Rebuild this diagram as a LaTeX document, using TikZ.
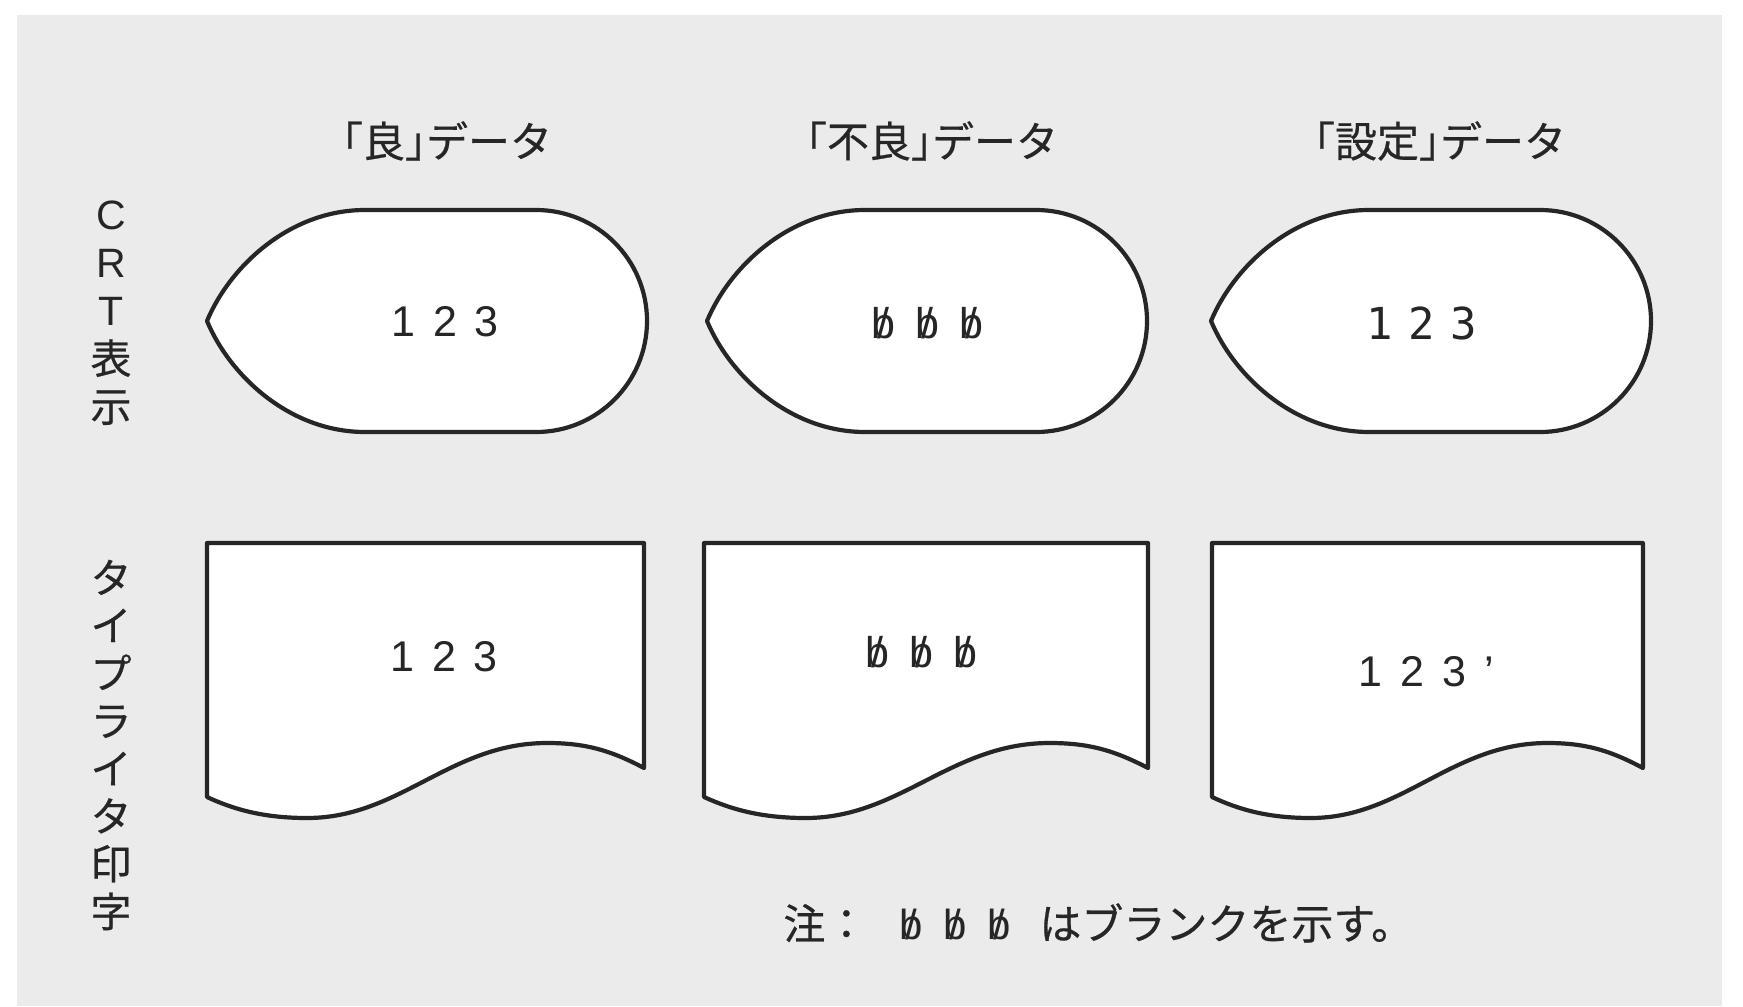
\documentclass[tikz,border=0pt]{standalone}
\usepackage{fontspec}
\setmainfont{Liberation Sans}
\newfontfamily\jp{Noto Sans CJK JP}[FakeBold=0.5]
\newfontfamily\segfont{DejaVu Sans Mono}
\newcommand\lbk{\makebox[0.5em][r]{「}}
\newcommand\rbk{\makebox[0.5em][l]{」}}
\newcommand\blk{\makebox[22pt]{\rmfamily\ooalign{b\cr\hidewidth/\hidewidth\cr}}}
\newcommand\dgap{\hspace{0.42em}}
\begin{document}
\begin{tikzpicture}[x=0.5pt,y=-0.5pt,
  outline/.style={draw=black!85,line width=2.1pt,fill=white,line join=round},
  hdr/.style={inner sep=0pt,text=black!85,font=\jp\fontsize{21}{24}\selectfont},
  vlab/.style={inner sep=0pt,align=center,text=black!85,font=\jp\fontsize{20.5}{24}\selectfont},
  digits/.style={inner sep=0pt,text=black!85,font=\rmfamily\fontsize{21.5}{24}\selectfont},
  segdigits/.style={inner sep=0pt,text=black!85,font=\segfont\fontsize{22}{24}\selectfont},
  notetext/.style={inner sep=0pt,text=black!85,font=\jp\fontsize{21}{24}\selectfont}]
\useasboundingbox (0,0) rectangle (1743,1006);
\fill[white] (0,0) rectangle (1743,1006);
\fill[black!8] (17,15) rectangle (1722,1006);
% CRT display shapes
\foreach \dx in {0,500,1004} {
  \draw[outline,shift={(\dx,0)}] (207,321) .. controls (230,266) and (290,210) .. (365,210) -- (536,210)
    .. controls (597.3,210) and (647,259.7) .. (647,321)
    .. controls (647,382.3) and (597.3,432) .. (536,432) -- (365,432)
    .. controls (290,432) and (230,376) .. cycle;
}
% typewriter document shapes
\foreach \L/\s in {207/1, 704/1.016, 1212/0.986} {
  \draw[outline,shift={(\L,0)},xscale=\s] (0,543) -- (437,543) -- (437,768)
    .. controls (403,750) and (378,743) .. (340,743)
    .. controls (243,743) and (193,818) .. (100,818)
    .. controls (58,818) and (28,810) .. (0,797) -- cycle;
}
% headers
\node[hdr] (h1) at (447,141) {\lbk 良\rbk データ};
\node[hdr] (h2) at (932,141) {\lbk 不良\rbk データ};
\node[hdr] (h3) at (1440,141) {\lbk 設定\rbk データ};
% row labels
\node[vlab] (crt) at (111,313) {{\rmfamily C}\\{\rmfamily R}\\{\rmfamily T}\\表\\示};
\node[vlab,font=\jp\fontsize{20.5}{23.85}\selectfont] (tw) at (111,745) {タ\\イ\\プ\\ラ\\イ\\タ\\印\\字};
% contents
\node[digits] (d1) at (445,322) {1\dgap 2\dgap 3};
\node[digits] (d2) at (927,323) {\blk\blk\blk};
\node[segdigits] (d3) at (1422,323) {1\hspace{0.35em}2\hspace{0.35em}3};
\node[digits] (p1) at (444,657) {1\dgap 2\dgap 3};
\node[digits] (p2) at (921,652) {\blk\blk\blk};
\node[digits] (p3) at (1426,672) {1\dgap 2\dgap 3\dgap ’};
% note
\node[notetext,anchor=west] (note) at (783,923) {注：\hspace{11pt}{\fontsize{21}{24}\selectfont\blk\blk\blk}\hspace{9pt}はブランクを示す。};
\end{tikzpicture}
\end{document}
